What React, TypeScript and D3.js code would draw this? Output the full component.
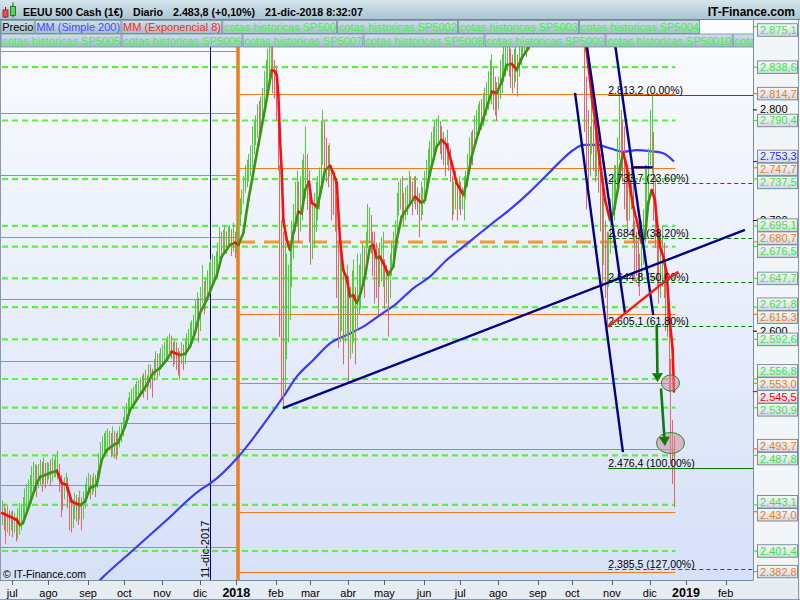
import React from "react";
import * as d3 from "d3";

// ---------------- DATA ----------------
const titleName = "EEUU 500 Cash (1€)";
const titlePeriod = "Diario";
const lastPrice = 2483.8;
const lastChangePct = 0.1;
const titleStamp = "21-dic-2018 8:32:07";
const brand = "IT-Finance.com";

const legendRow1 = ["Precio", "MM (Simple 200)", "MM (Exponencial 8)", "cotas historicas SP500", "cotas historicas SP5002", "cotas historicas SP5003", "cotas historicas SP5004"];
const legendRow2 = ["cotas historicas SP5005", "cotas historicas SP5006", "cotas historicas SP5007", "cotas historicas SP5008", "cotas historicas SP5009", "cotas historicas SP50010", "cotas historicas SP5001"];

const monthLabels = ["jul", "ago", "sep", "oct", "nov", "dic", "2018", "feb", "mar", "abr", "may", "jun", "jul", "ago", "sep", "oct", "nov", "dic", "2019", "feb"];

// first bar index relative to 3-jul-2017 (weekday index)
const barStartIdx = -6;
const barLow = [
2425,2420,2408,2418,2415,2420,
2414,2418,2410,2412,2416, 2420,2425,2430,2438,2440, 2445,2448,2452,2455,2450, 2458,2460,2455,2462,2458,
2462,2466,2460,2464,2468, 2468,2466,2455,2432,2438, 2448,2455,2440,2420,2418, 2422,2430,2428,2425,2430,
2420,2430,2440,2448,2452, 2448,2452,2455,2450,2458, 2465,2480,2485,2488,2490, 2490,2492,2486,2488,2485,
2484,2488,2495,2500,2505, 2512,2518,2520,2525,2530, 2530,2535,2538,2540,2542, 2543,2540,2545,2538,2550,
2548,2540,2555,2560,2558, 2560,2565,2568,2570,2572, 2575,2578,2575,2568,2570, 2565,2560,2556,2570,2565,
2570,2578,2582,2588,2590, 2595,2600,2605,2590,2600, 2625,2615,2620,2628,2635, 2640,2645,2648,2650,2655,
2665,2668,2670,2672,2670, 2674,2676,2668,2672,2666, 2670,2685,2695,2705,2715, 2725,2730,2735,2740,2748,
2760,2768,2775,2770,2780, 2790,2805,2815,2820,2830, 2830,2815,2810,2790,2745, 2595,2540,2532,2545,2575,
2590,2610,2640,2665,2690, 2695,2680,2690,2700,2715, 2720,2710,2680,2660,2665, 2675,2690,2700,2710,2730,
2750,2740,2735,2730,2740, 2700,2705,2690,2630,2585, 2590,2600,2570,2590,2595, 2554,2575,2580,2590,2570,
2600,2615,2620,2640,2630, 2660,2675,2680,2670,2650, 2625,2630,2615,2640,2645, 2640,2620,2625,2595,2630,
2650,2660,2670,2690,2705, 2710,2705,2695,2700,2705, 2715,2715,2705,2715,2710, 2705,2685,2700,2705,2715,
2730,2740,2745,2750,2760, 2762,2765,2768,2760,2755, 2750,2740,2750,2745,2735, 2700,2705,2710,2700,2710,
2705,2710,2700,2720,2730, 2745,2755,2750,2765,2775, 2780,2785,2782,2785,2790, 2795,2800,2810,2805,2800,
2795,2790,2800,2810,2815, 2825,2830,2835,2830,2820, 2815,2820,2825,2812,2830, 2840,2845,2850,2848,2855,
2870,2880,2878,2880,2875, 2885,2870,2865,2868,2860, 2865,2870,2875,2880,2885, 2880,2890,2895,2900,2915,
2905,2905,2895,2900,2905, 2910,2905,2915,2890,2875, 2865,2860,2780,2710,2725, 2740,2760,2745,2735,2740,
2725,2690,2640,2660,2630, 2603,2640,2670,2700,2700, 2710,2730,2755,2745,2735, 2710,2700,2690,2700,2710,
2680,2645,2650,2640,2632, 2650,2660,2680,2700,2720, 2750,2743,2700,2675,2640, 2625,2630,2640,2630,2600,
2595,2545,2480,2462,2441];
const barHigh = [
2447,2444,2440,2442,2438,2437,
2438,2436,2432,2440,2445, 2444,2450,2458,2462,2466, 2470,2478,2482,2480,2479, 2480,2484,2482,2486,2481,
2482,2481,2484,2486,2484, 2488,2492,2480,2470,2462, 2468,2472,2468,2455,2448, 2448,2454,2452,2450,2456,
2450,2455,2462,2468,2472, 2470,2468,2472,2470,2474, 2490,2500,2505,2508,2510, 2512,2510,2508,2514,2510,
2508,2510,2514,2518,2522, 2530,2535,2540,2545,2548, 2550,2552,2555,2556,2558, 2560,2562,2565,2560,2570,
2570,2566,2575,2582,2580, 2580,2585,2588,2590,2592, 2595,2598,2596,2590,2592, 2590,2585,2582,2590,2588,
2592,2598,2602,2608,2610, 2615,2628,2635,2630,2640, 2660,2645,2648,2655,2662, 2665,2670,2668,2672,2680,
2694,2690,2692,2695,2690, 2694,2696,2692,2698,2690, 2695,2710,2720,2728,2740, 2750,2755,2760,2768,2785,
2790,2795,2805,2808,2812, 2820,2835,2845,2855,2870, 2872,2860,2845,2840,2820, 2750,2700,2690,2680,2670,
2660,2680,2700,2715,2735, 2745,2735,2740,2755,2760, 2785,2760,2745,2720,2715, 2725,2735,2740,2748,2790,
2800,2790,2775,2768,2770, 2750,2740,2735,2720,2680, 2680,2670,2660,2650,2660, 2650,2640,2655,2665,2640,
2670,2660,2670,2680,2675, 2690,2715,2712,2705,2690, 2690,2680,2675,2680,2685, 2690,2665,2660,2655,2670,
2680,2690,2700,2725,2735, 2738,2740,2725,2730,2732, 2745,2740,2735,2740,2740, 2730,2725,2735,2730,2745,
2755,2765,2772,2780,2785, 2790,2792,2795,2790,2785, 2780,2775,2782,2770,2765, 2740,2735,2745,2735,2740,
2735,2730,2740,2745,2760, 2775,2780,2782,2795,2800, 2805,2808,2810,2815,2820, 2825,2835,2845,2850,2838,
2830,2825,2830,2845,2850, 2860,2865,2870,2865,2855, 2850,2855,2860,2850,2865, 2870,2875,2880,2878,2885,
2900,2905,2905,2910,2905, 2910,2900,2895,2892,2890, 2890,2895,2900,2905,2910, 2910,2915,2920,2930,2940,
2930,2932,2930,2925,2925, 2940,2935,2940,2930,2910, 2895,2900,2880,2830,2800, 2785,2815,2790,2785,2780,
2775,2760,2730,2720,2700, 2690,2690,2720,2740,2750, 2750,2775,2814,2800,2790, 2785,2745,2740,2745,2750,
2740,2700,2690,2685,2670, 2700,2710,2750,2750,2765, 2800,2813,2780,2740,2700, 2680,2690,2695,2680,2655,
2650,2605,2575,2520,2505];

// EMA 8 as read: [bar index, value]
const ema8: [number, number][] = [
[-6,2435.7],[-1.3,2432.4],[2.7,2429.4],[4.5,2424.9],[6.2,2426.7],[10.3,2444.7],[14.2,2462.8],[16.1,2468.2],[21.9,2471.9],[25.8,2473.9],
[28.7,2462.8],[31.6,2461],[34.5,2445.9],[39.3,2442.9],[42.2,2445.9],[45.1,2458.3],[49,2461],[51.9,2483.6],[54.8,2492.6],[59.6,2498.1],
[61.3,2499],[65.4,2513.7],[68.3,2528.8],[74.1,2542.3],[78,2551.4],[81.7,2562.2],[85.7,2566.7],[89.6,2574],[92.5,2581.5],[97.3,2578.5],
[100.2,2579.4],[103.1,2586],[106,2598.4],[108.9,2616.4],[112.8,2628.2],[116.7,2643.6],[118.6,2649.9],[121.5,2667.3],[126.3,2677.9],[129.3,2680],
[131.2,2677.9],[134.1,2688.7],[137,2718.6],[142.8,2768.3],[146.7,2801.7],[150.6,2836],[152.5,2834.5],[153.5,2831.5],[154.4,2813.4],[155.4,2772.8],
[156.4,2743],[157.3,2700.5],[159.3,2682.4],[161.2,2673.4],[163.1,2688.7],[166,2708],[168,2706.5],[169.9,2727.6],[172.2,2735.1],[173.8,2715.9],
[175.7,2714.1],[177,2711.3],[179.6,2730.6],[181.5,2745.7],[184.4,2749.3],[186.3,2743],[188.3,2733.9],[190.2,2682.4],[192.1,2655.3],[194.1,2648.1],
[196,2631.2],[197.9,2632.7],[199.9,2625.5],[202.2,2634.5],[204.7,2649.3],[207.6,2676.4],[209.5,2677.9],[211.5,2666.1],[213.4,2667.3],[216.3,2658.3],
[218.2,2650.8],[221.1,2658.3],[223.1,2682.4],[226,2703.5],[229.8,2712.5],[233.7,2721.5],[237.6,2715.9],[239.5,2718.6],[242.4,2743],[246.3,2766.7],
[249.2,2772.8],[252.1,2768.3],[255,2752],[257.9,2733.9],[261.8,2723.1],[263.7,2733.9],[266.6,2757.7],[270.5,2779.1],[274.4,2797.2],[278.3,2816.4],
[281.1,2815.3],[284,2825.2],[287,2840.6],[289.9,2841.5],[292.8,2836],[295.7,2846.9],[299.6,2855.9],[306,2885],[312,2895],[318,2905],
[324,2905],[329,2890],[331.5,2875],[333.4,2852.6],[335.3,2827],[336.3,2812],[338.2,2790.9],[341.1,2752],[344,2718.6],[346.9,2700.5],
[348.9,2706.8],[351.7,2730.6],[352.7,2748.7],[354.6,2761],[356.6,2748.7],[358.5,2730.6],[360.4,2712.5],[363.3,2694.4],[365.3,2679.7],[367.2,2685.4],
[369.1,2715.9],[371.1,2727.6],[373,2718.6],[374,2700.5],[375.9,2676.4],[377.8,2667.3],[379.8,2652.3],[381.7,2607],[383.2,2585],[384,2545.5]];

// MM simple 200 as read: [bar index, value]
const sma200: [number, number][] = [
[45.2,2366],[50.9,2375.2],[70.2,2402.3],[89.6,2429.4],[108.9,2456.5],[115.5,2463.1],[131.2,2486.6],[147.6,2519.7],[157.3,2540.8],[165.1,2558.9],
[174.7,2574],[184.4,2589.1],[194.1,2596.6],[203.7,2604.1],[213.4,2614.6],[223.1,2625.2],[232.7,2638.8],[242.4,2649.3],[252.1,2664.3],[261.8,2676.4],
[271.4,2688.5],[281.1,2700.5],[290.8,2712.5],[300.5,2726.1],[312.1,2744.1],[317.9,2753.2],[325.6,2763.7],[331.5,2768.3],[339.2,2768.3],[346.9,2765.3],
[354.6,2762.2],[362.4,2763.7],[370.1,2762.8],[377.8,2760.8],[384,2753.3]];

const cotas = [2875.1, 2838.6, 2790.4, 2737.5, 2695.1, 2676.5, 2647.7, 2621.8, 2592.6, 2556.8, 2530.9, 2487.8, 2443.1, 2401.4];
const orangeRight = [2814.7, 2747.7, 2615.3, 2553.0, 2493.7, 2437.0, 2382.8];
const orangeLeft = [2853.2, 2797.2, 2741.2, 2685.1, 2629.1, 2573.1, 2517.0, 2461.0, 2405.0];
const orangeDashed = 2680.7;
const axisTicks = [2600, 2700, 2800];

const fibStartIdx = 345.9;
const fibLevels = [2813.2, 2733.7, 2684.6, 2644.8, 2605.1, 2476.4, 2385.5];
const fibPct = [0, 23.6, 38.2, 50, 61.8, 100, 127];

const navyLines: [number, number][][] = [
  [[157.1, 2530.6], [425.2, 2691.5]],
  [[326.6, 2815.3], [354.4, 2490.8]],
  [[333.4, 2858.6], [355.6, 2616.2]],
  [[349.9, 2858.6], [372.0, 2614.6]],
  [[360.4, 2748.1], [371.7, 2748.1]],
];
const redLine: [number, number][] = [[345.9, 2604.1], [379.8, 2646.3], [386.5, 2653.8]];
const greenArrows: [number, number][][] = [
  [[374.0, 2605.6], [374.5, 2554.0]],
  [[376.5, 2548.4], [378.8, 2496.3]],
];
const circles: [number, number, number, number][] = [
  [382.0, 2553.2, 9, 8],
  [382.0, 2499.0, 14, 10.5],
];
const markerDateText = "11-dic-2017";
const markerDate = [2017, 11, 11];
const yearStartLine = [2018, 0, 2];

// ---------------- HELPERS ----------------
const loc = d3.formatLocale({ decimal: ",", thousands: ".", grouping: [3], currency: ["", "€"] });
const fmt1 = loc.format(",.1f");
const fmt0 = loc.format(",.0f");
const fmtPct = loc.format(".2f");

function wdIndex(y: number, m: number, d: number) {
  let t = Date.UTC(y, m, d);
  const wd = new Date(t).getUTCDay();
  if (wd === 6) t += 2 * 864e5;
  else if (wd === 0) t += 864e5;
  const days = Math.round((t - Date.UTC(2017, 6, 3)) / 864e5);
  return Math.floor(days / 7) * 5 + (days % 7);
}

let _ctx: CanvasRenderingContext2D | null = null;
function measure(s: string, font: string) {
  if (!_ctx) _ctx = document.createElement("canvas").getContext("2d");
  if (!_ctx) return s.length * 6;
  _ctx.font = font;
  return _ctx.measureText(s).width;
}

const FONT = "'Liberation Sans', Arial, Helvetica, sans-serif";
const GREEN_EMA = "#3a9414";
const RED_EMA = "#ff0c0c";
const ORANGE = "#f07c1c";

export default function App() {
  const PL = 0, PR = 753, PT = 20, PB = 580;
  const x = d3.scaleLinear().domain([0, 391]).range([12.3, 686]);
  const y = d3.scaleLinear().domain([2375.2, 2881.2]).range([PB, PT]);

  const lastIdx = barStartIdx + barLow.length - 1;
  const xEnd = x(lastIdx) + 1.5;
  const xVertNavy = x(wdIndex(markerDate[0], markerDate[1], markerDate[2]));
  const xVertOrange = x(wdIndex(yearStartLine[0], yearStartLine[1], yearStartLine[2]));

  // bars
  const n = Math.min(barLow.length, barHigh.length);
  const bars = [] as { xi: number; lo: number; hi: number; up: boolean }[];
  for (let k = 0; k < n; k++) {
    const mid = barLow[k] + barHigh[k];
    const prev = k > 0 ? barLow[k - 1] + barHigh[k - 1] : mid;
    bars.push({ xi: Math.round(x(k + barStartIdx)) + 0.5, lo: barLow[k], hi: barHigh[k], up: mid >= prev });
  }

  const smaPath = d3.line<[number, number]>().x(d => x(d[0])).y(d => y(d[1])).curve(d3.curveMonotoneX)(sma200) || "";

  // month ticks
  const months = monthLabels.map((lab, k) => {
    const mm = 6 + k;
    const yr = 2017 + Math.floor(mm / 12);
    return { lab, x: x(wdIndex(yr, mm % 12, 1)), bold: /^\d{4}$/.test(lab) };
  });

  // right axis labels
  type Lab = { v: number; c: string; y0: number; y: number };
  const labs: Lab[] = [
    ...cotas.map(v => ({ v, c: "#3fe43f" })),
    ...orangeRight.map(v => ({ v, c: ORANGE })),
    { v: orangeDashed, c: ORANGE },
    { v: sma200[sma200.length - 1][1], c: "#2a2aff" },
    { v: ema8[ema8.length - 1][1], c: "#ff0000" },
  ].map(d => ({ ...d, y0: y(d.v), y: y(d.v) }));
  labs.sort((a, b) => a.y0 - b.y0);
  const gap = 13;
  for (let it = 0; it < 300; it++) {
    let moved = false;
    if (labs[0].y < 30) { labs[0].y = 30; }
    for (let k = 1; k < labs.length; k++) {
      const dd = labs[k].y - labs[k - 1].y;
      if (dd < gap - 0.01) {
        const s = (gap - dd) / 2;
        labs[k - 1].y -= s;
        labs[k].y += s;
        moved = true;
      }
    }
    if (!moved) break;
  }

  // legend layout
  const LF = `11px ${FONT}`;
  const legendColor = (t: string) => (t === "Precio" ? "#000" : t.startsWith("MM (S") ? "#4848ff" : t.startsWith("MM (E") ? "#ff2424" : "#46f046");
  const layoutRow = (items: string[]) => {
    let cx = 1;
    return items.map(t => {
      const w = measure(t, LF) + 2;
      const r = { t, x: cx, w };
      cx += w + 1;
      return r;
    });
  };
  const row1 = layoutRow(legendRow1);
  const row2 = layoutRow(legendRow2);

  const emaSegs = [] as { x1: number; y1: number; x2: number; y2: number; c: string }[];
  for (let k = 1; k < ema8.length; k++) {
    const a = ema8[k - 1], b = ema8[k];
    emaSegs.push({ x1: x(a[0]), y1: y(a[1]), x2: x(b[0]), y2: y(b[1]), c: b[1] < a[1] ? RED_EMA : GREEN_EMA });
  }

  const arrowHead = (p0: [number, number], p1: [number, number]) => {
    const x0 = x(p0[0]), y0 = y(p0[1]), x1 = x(p1[0]), y1 = y(p1[1]);
    const ang = Math.atan2(y1 - y0, x1 - x0);
    const L = 9, Wd = 5.5;
    const bx = x1 - L * Math.cos(ang), by = y1 - L * Math.sin(ang);
    const px = -Math.sin(ang) * Wd, py = Math.cos(ang) * Wd;
    return { line: [x0, y0, bx, by], pts: `${x1},${y1} ${bx + px},${by + py} ${bx - px},${by - py}` };
  };

  const titleText = `${fmt1(lastPrice)} (+${fmtPct(lastChangePct)}%)`;
  const titleItems = [
    { t: titleName, x: 23, w: 100 },
    { t: titlePeriod, x: 133, w: 30 },
    { t: titleText, x: 173, w: 82 },
    { t: titleStamp, x: 265, w: 98 },
  ];

  return (
    <svg width={800} height={600} style={{ position: "fixed", left: 0, top: 0, display: "block", fontFamily: FONT }}>
      <defs>
        <linearGradient id="plotBg" x1="0" y1="0" x2="0" y2="1">
          <stop offset="0" stopColor="#fbfcff" />
          <stop offset="1" stopColor="#d6e0f7" />
        </linearGradient>
        <linearGradient id="titleBg" x1="0" y1="0" x2="0" y2="1">
          <stop offset="0" stopColor="#d6e6ee" />
          <stop offset="1" stopColor="#a9c3d1" />
        </linearGradient>
        <linearGradient id="legBg" x1="0" y1="0" x2="0" y2="1">
          <stop offset="0" stopColor="#d0e0ea" />
          <stop offset="1" stopColor="#a4bccb" />
        </linearGradient>
        <linearGradient id="boxBg" x1="0" y1="0" x2="0" y2="1">
          <stop offset="0" stopColor="#f6f9fb" />
          <stop offset="1" stopColor="#cfd9e3" />
        </linearGradient>
        <clipPath id="plotClip"><rect x={PL} y={PT} width={PR - PL} height={PB - PT} /></clipPath>
        <clipPath id="legClip"><rect x={0} y={PT} width={PR} height={30} /></clipPath>
      </defs>

      {/* backgrounds */}
      <rect x={0} y={0} width={800} height={600} fill="#f3f6f9" />
      <rect x={PL} y={PT} width={PR - PL} height={PB - PT} fill="url(#plotBg)" />
      <rect x={0} y={PB} width={800} height={20} fill="#e6edf2" />

      <g clipPath="url(#plotClip)">
        {orangeLeft.map((v, k) => (
          <line key={"ol" + k} x1={PL} x2={xVertOrange - 1} y1={Math.round(y(v)) + 0.5} y2={Math.round(y(v)) + 0.5} stroke={ORANGE} strokeWidth={1.1} />
        ))}
        {orangeRight.map((v, k) => (
          <line key={"or" + k} x1={xVertOrange + 1} x2={xEnd} y1={Math.round(y(v)) + 0.5} y2={Math.round(y(v)) + 0.5} stroke={ORANGE} strokeWidth={1.1} />
        ))}
        {cotas.map((v, k) => (
          <line key={"c" + k} x1={PL + 2} x2={xEnd} y1={y(v)} y2={y(v)} stroke="#5cf046" strokeWidth={2.2} strokeDasharray="6 4" />
        ))}
        <line x1={xVertOrange + 2} x2={xEnd - 6} y1={y(orangeDashed)} y2={y(orangeDashed)} stroke="#f3963c" strokeWidth={3} strokeDasharray="15 9" />

        <line x1={Math.round(xVertNavy) + 0.5} x2={Math.round(xVertNavy) + 0.5} y1={PT} y2={PB} stroke="#000080" strokeWidth={1} />
        <line x1={xVertOrange} x2={xVertOrange} y1={45} y2={PB} stroke={ORANGE} strokeWidth={3.5} />

        <path d={smaPath} fill="none" stroke="#3a3aff" strokeWidth={2.2} />

        {bars.map((b, k) => (
          <line key={"b" + k} x1={b.xi} x2={b.xi} y1={y(b.hi)} y2={y(b.lo)} stroke={b.up ? "#52cc3a" : "#e06868"} strokeWidth={1} />
        ))}

        {emaSegs.map((s, k) => (
          <line key={"e" + k} x1={s.x1} y1={s.y1} x2={s.x2} y2={s.y2} stroke={s.c} strokeWidth={2.6} strokeLinecap="round" />
        ))}

        {fibLevels.map((v, k) => {
          const solid = fibPct[k] === 0 || fibPct[k] === 100;
          const yy = Math.round(y(v)) + 0.5;
          return (
            <g key={"f" + k}>
              <line x1={x(fibStartIdx)} x2={PR} y1={yy} y2={yy} stroke="#007a00" strokeWidth={1.2} strokeDasharray={solid ? undefined : "4 3"} />
              <text x={x(fibStartIdx)} y={yy - 2} fontSize={10.5} fill="#000">{`${fmt1(v)} (${fmtPct(fibPct[k])}%)`}</text>
            </g>
          );
        })}

        {navyLines.map((l, k) => (
          <line key={"n" + k} x1={x(l[0][0])} y1={y(l[0][1])} x2={x(l[1][0])} y2={y(l[1][1])} stroke="#000088" strokeWidth={2.4} />
        ))}
        <polyline points={redLine.map(p => `${x(p[0])},${y(p[1])}`).join(" ")} fill="none" stroke="#ff1a1a" strokeWidth={2.4} />
        {circles.map((c, k) => (
          <ellipse key={"el" + k} cx={x(c[0])} cy={y(c[1])} rx={c[2]} ry={c[3]} fill="rgba(214,140,160,0.55)" stroke="#2a8a2a" strokeWidth={1} />
        ))}
        {greenArrows.map((a, k) => {
          const h = arrowHead(a[0], a[1]);
          return (
            <g key={"a" + k}>
              <line x1={h.line[0]} y1={h.line[1]} x2={h.line[2]} y2={h.line[3]} stroke="#0f7a0f" strokeWidth={2.6} />
              <polygon points={h.pts} fill="#0f7a0f" />
            </g>
          );
        })}
      </g>

      <text transform={`translate(${xVertNavy - 1}, 578) rotate(-90)`} fontSize={11} fill="#000">{markerDateText}</text>
      <text x={3} y={578} fontSize={10.5} fill="#000">{"© " + brand}</text>

      <line x1={0.5} x2={0.5} y1={PT} y2={PB} stroke="#8a9aaa" />
      <line x1={PR + 0.5} x2={PR + 0.5} y1={PT} y2={PB} stroke="#7d8d9c" />
      <line x1={0} x2={PR + 0.5} y1={PB + 0.5} y2={PB + 0.5} stroke="#7d8d9c" />
      <line x1={798.5} x2={798.5} y1={PT} y2={600} stroke="#8a9aaa" />
      <line x1={0} x2={800} y1={599.5} y2={599.5} stroke="#8a9aaa" />

      {/* legend */}
      <g clipPath="url(#legClip)">
        {[row1, row2].map((row, r) =>
          row.map((b, k) => (
            <g key={`lg${r}-${k}`}>
              <rect x={b.x} y={r === 0 ? 20.5 : 34} width={b.w} height={13} fill="url(#legBg)" stroke="#71899a" strokeWidth={0.8} />
              <text x={b.x + 1.2} y={r === 0 ? 31 : 44.5} fontSize={11} fill={legendColor(b.t)}>{b.t}</text>
            </g>
          ))
        )}
      </g>

      {/* title bar */}
      <rect x={0} y={0} width={800} height={20} fill="url(#titleBg)" />
      <line x1={0} x2={800} y1={19.5} y2={19.5} stroke="#6f8797" />
      <g>
        <line x1={5.5} x2={5.5} y1={7} y2={18} stroke="#602020" />
        <rect x={3} y={10} width={5} height={7} fill="#ff4545" stroke="#7a2020" strokeWidth={0.8} />
        <line x1={13} x2={13} y1={2.5} y2={17.5} stroke="#205020" />
        <rect x={10.5} y={6.5} width={5} height={9} fill="#45e045" stroke="#206020" strokeWidth={0.8} />
      </g>
      {titleItems.map((t, k) => (
        <text key={"t" + k} x={t.x} y={15.5} fontSize={11.5} fontWeight="bold" fill="#000" textLength={t.w} lengthAdjust="spacingAndGlyphs">{t.t}</text>
      ))}
      <text x={795} y={15.5} fontSize={12} fontWeight="bold" fill="#000" textAnchor="end">{brand}</text>

      {/* right axis */}
      {axisTicks.map(v => (
        <g key={"at" + v}>
          <line x1={PR} x2={PR + 4} y1={y(v)} y2={y(v)} stroke="#000" />
          <text x={760} y={y(v) + 3.5} fontSize={11} fill="#000">{fmt0(v)}</text>
        </g>
      ))}
      {labs.map((l, k) => (
        <g key={"rl" + k}>
          <line x1={PR} x2={PR + 4} y1={l.y0} y2={l.y0} stroke={l.c} strokeWidth={1.2} />
          <rect x={757.5} y={l.y - 6.25} width={40} height={12.5} fill="url(#boxBg)" stroke="#73838f" strokeWidth={0.9} />
          <text x={760} y={l.y + 4} fontSize={11} fill={l.c}>{fmt1(l.v)}</text>
        </g>
      ))}

      {/* bottom axis */}
      {months.map((m, k) => (
        <g key={"m" + k}>
          <line x1={Math.round(m.x) + 0.5} x2={Math.round(m.x) + 0.5} y1={PB} y2={PB + 5} stroke="#55606a" />
          <text x={m.x} y={597} fontSize={m.bold ? 12.5 : 11} fontWeight={m.bold ? "bold" : "normal"} textAnchor="middle" fill="#000">{m.lab}</text>
        </g>
      ))}
    </svg>
  );
}
